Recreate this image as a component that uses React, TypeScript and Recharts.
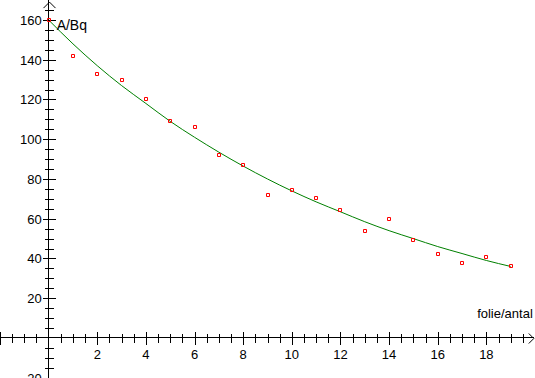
import React from "react";
import { ComposedChart, XAxis, YAxis, Line, Scatter, ReferenceLine } from "recharts";

const measuredX = [0, 1, 2, 3, 4, 5, 6, 7, 8, 9, 10, 11, 12, 13, 14, 15, 16, 17, 18, 19];
const measuredA = [160, 142, 133, 130, 120, 109, 106, 92, 87, 72, 74.5, 70.5, 64.5, 54, 60, 49.5, 42.5, 37.5, 41, 36];

const fitX = [0, 1, 2, 3, 4, 5, 6, 7, 8, 9, 10, 11, 12, 13, 14, 15, 16, 17, 18, 19];
const fitA = [160, 148, 137, 127, 118, 109, 101, 93.5, 86.5, 80, 74, 68.5, 63.5, 58.5, 54, 50, 46, 42.5, 39, 36];

const xMinorTicks = [-1.5, -1, -0.5, 0.5, 1, 1.5, 2.5, 3, 3.5, 4.5, 5, 5.5, 6.5, 7, 7.5, 8.5, 9, 9.5, 10.5, 11, 11.5, 12.5, 13, 13.5, 14.5, 15, 15.5, 16.5, 17, 17.5, 18.5, 19, 19.5];
const xMajorTicks = [-2, 2, 4, 6, 8, 10, 12, 14, 16, 18];
const xLabels = [2, 4, 6, 8, 10, 12, 14, 16, 18];
const yMinorTicks = [-15, -10, -5, 5, 10, 15, 25, 30, 35, 45, 50, 55, 65, 70, 75, 85, 90, 95, 105, 110, 115, 125, 130, 135, 145, 150, 155, 165];
const yMajorTicks = [-20, 20, 40, 60, 80, 100, 120, 140, 160];
const yLabels = [-20, 20, 40, 60, 80, 100, 120, 140, 160];

const yAxisTitle = "A/Bq";
const xAxisTitle = "folie/antal";

const measured = measuredX.map((x, i) => ({ x, y: measuredA[i] }));
const fit = fitX.map((x, i) => ({ x, y: fitA[i] }));
const xMinor = xMinorTicks.map((x) => ({ x, y: 0 }));
const xMajor = xMajorTicks.map((x) => ({ x, y: 0 }));
const xLab = xLabels.map((x) => ({ x, y: 0, t: String(x) }));
const yMinor = yMinorTicks.map((y) => ({ x: 0, y }));
const yMajor = yMajorTicks.map((y) => ({ x: 0, y }));
const yLab = yLabels.map((y) => ({ x: 0, y, t: String(y) }));
const topArrow = [{ x: 0, y: 169 }];
const rightArrow = [{ x: 19.95, y: 0 }];
const yTitle = [{ x: 0, y: 160, t: yAxisTitle }];
const xTitle = [{ x: 19.95, y: 0, t: xAxisTitle }];

const FONT = "Arial, 'Liberation Sans', sans-serif";
const r = (v: number) => Math.round(v) + 0.5;

const VTick = (len: number) => (p: any) => (
  <line x1={r(p.cx)} x2={r(p.cx)} y1={Math.round(p.cy) - len} y2={Math.round(p.cy) + len + 1} stroke="#000" strokeWidth={1} shapeRendering="crispEdges" />
);
const HTick = (len: number) => (p: any) => (
  <line y1={r(p.cy)} y2={r(p.cy)} x1={Math.round(p.cx) - len} x2={Math.round(p.cx) + len + 1} stroke="#000" strokeWidth={1} shapeRendering="crispEdges" />
);

const Square = (p: any) => {
  const x0 = Math.round(p.cx) - 1.5;
  const y0 = Math.round(p.cy) - 1.5;
  return (
    <path
      d={`M${x0},${y0}h3v3h-3z`}
      style={{ fill: "none", stroke: "#ff0000", strokeWidth: 1 }}
    />
  );
};

export default function App() {
  return (
    <div style={{ position: "absolute", left: 0, top: 0, background: "#fff" }}>
      <ComposedChart width={535} height={378} margin={{ top: 0, right: 0, bottom: 0, left: 0 }}>
        <XAxis hide type="number" dataKey="x" domain={[-2, 20]} allowDataOverflow />
        <YAxis hide type="number" dataKey="y" domain={[-20.13, 170.06]} allowDataOverflow />
        <ReferenceLine x={0} stroke="#000" strokeWidth={1} shapeRendering="crispEdges" />
        <ReferenceLine segment={[{ x: -2, y: 0 }, { x: 19.95, y: 0 }]} stroke="#000" strokeWidth={1} shapeRendering="crispEdges" />
        <Scatter data={xMinor} isAnimationActive={false} shape={VTick(4)} />
        <Scatter data={xMajor} isAnimationActive={false} shape={VTick(6)} />
        <Scatter data={yMinor} isAnimationActive={false} shape={HTick(4)} />
        <Scatter data={yMajor} isAnimationActive={false} shape={HTick(6)} />
        <Scatter
          data={topArrow}
          isAnimationActive={false}
          shape={(p: any) => (
            <polyline points={`${r(p.cx) - 6},${p.cy + 6} ${r(p.cx)},${p.cy} ${r(p.cx) + 6},${p.cy + 6}`} fill="none" stroke="#000" strokeWidth={1} />
          )}
        />
        <Scatter
          data={rightArrow}
          isAnimationActive={false}
          shape={(p: any) => (
            <polyline points={`${p.cx - 5},${r(p.cy) - 5} ${p.cx},${r(p.cy)} ${p.cx - 5},${r(p.cy) + 5}`} fill="none" stroke="#000" strokeWidth={1} />
          )}
        />
        <Scatter
          data={xLab}
          isAnimationActive={false}
          shape={(p: any) => (
            <text x={p.cx} y={p.cy + 21} textAnchor="middle" fontFamily={FONT} fontSize={13} fill="#000">{p.payload.t}</text>
          )}
        />
        <Scatter
          data={yLab}
          isAnimationActive={false}
          shape={(p: any) => (
            <text x={p.cx - 7} y={p.cy + 5} textAnchor="end" fontFamily={FONT} fontSize={13} fill="#000">{p.payload.t}</text>
          )}
        />
        <Scatter
          data={yTitle}
          isAnimationActive={false}
          shape={(p: any) => (
            <text x={p.cx + 8} y={p.cy + 10} textAnchor="start" fontFamily={FONT} fontSize={14} fill="#000">{p.payload.t}</text>
          )}
        />
        <Scatter
          data={xTitle}
          isAnimationActive={false}
          shape={(p: any) => (
            <text x={p.cx - 1} y={p.cy - 20} textAnchor="end" fontFamily={FONT} fontSize={13} fill="#000">{p.payload.t}</text>
          )}
        />
        <Line data={fit} dataKey="y" type="monotone" stroke="#008000" strokeWidth={1} dot={false} activeDot={false} isAnimationActive={false} />
        <Scatter data={measured} isAnimationActive={false} shape={Square} />
      </ComposedChart>
    </div>
  );
}
